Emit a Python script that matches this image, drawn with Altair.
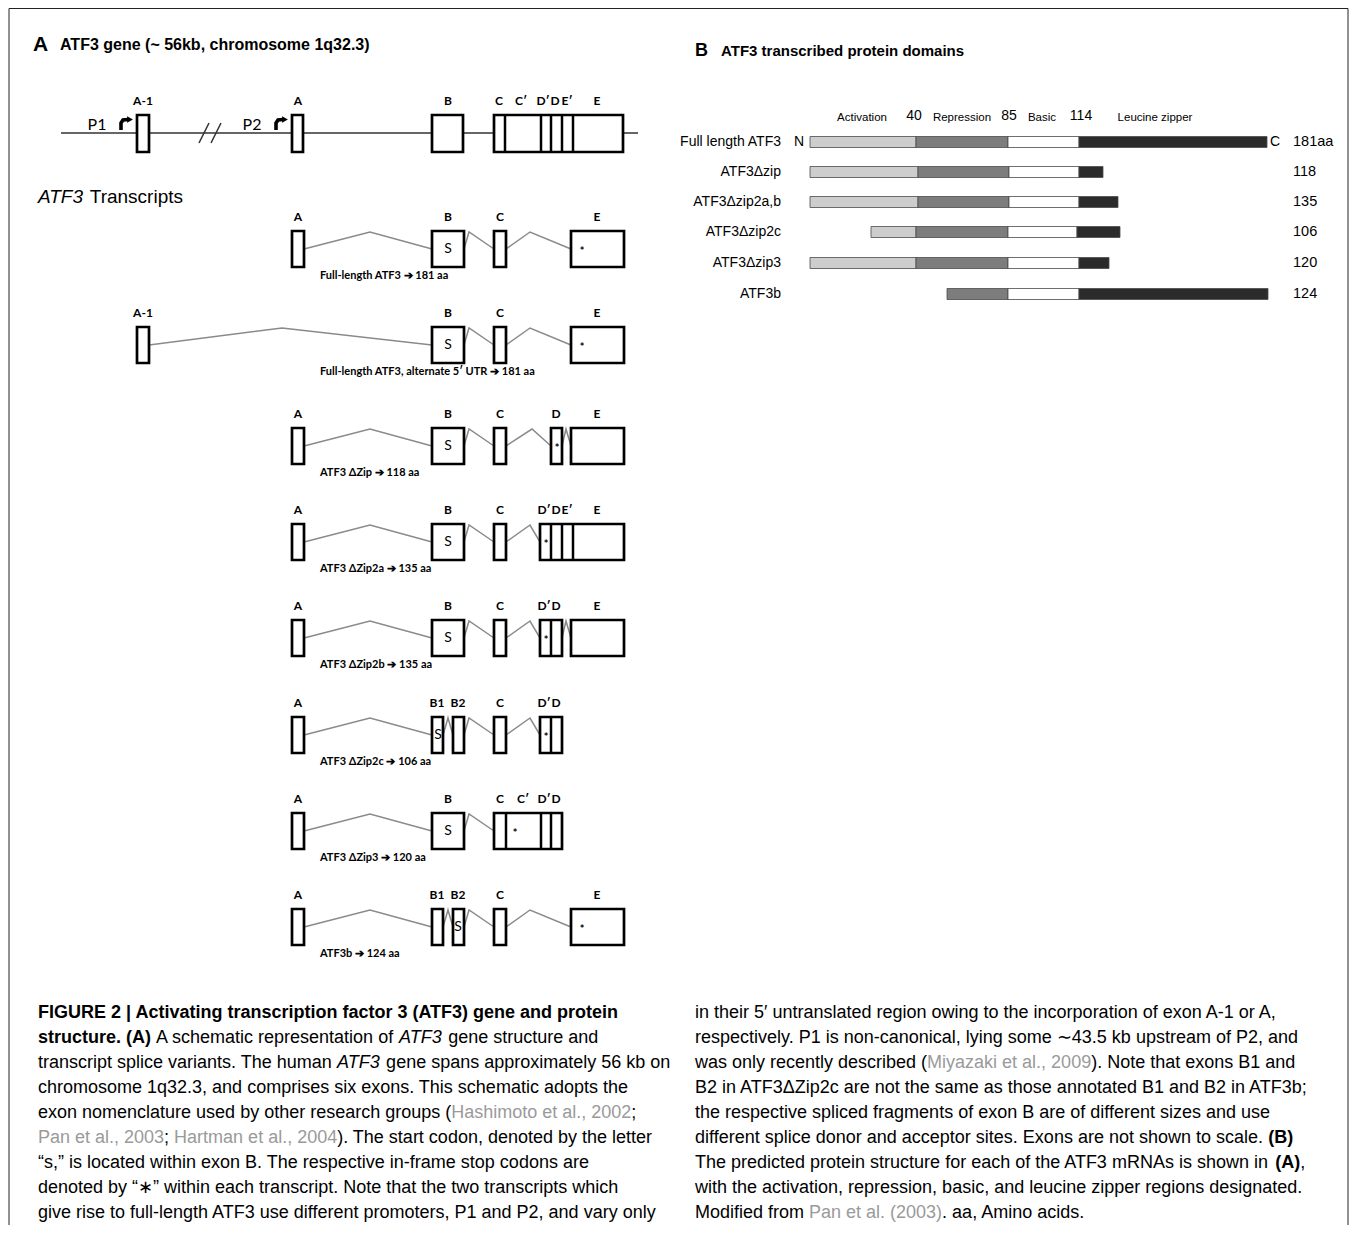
import altair as alt
import pandas as pd

# ---------------------------------------------------------------------------
# Frame: data coordinates are the reference figure's own pixel units
# ---------------------------------------------------------------------------
W, H = 1341, 1217
XS = alt.Scale(domain=[8, 8 + W], nice=False, zero=False)
YS = alt.Scale(domain=[8, 8 + H], nice=False, zero=False, reverse=True)

SANS = "Liberation Sans, Arial, Helvetica, sans-serif"
CAL = "Lato, Carlito, Calibri, Open Sans, sans-serif"

# ---------------------------------------------------------------------------
# Panel A - gene structure
# ---------------------------------------------------------------------------
gene_line_x = [61, 638]
gene_line_y = 133
gene_box_y = [115, 152]
gene_exon_x0 = [137, 292, 432, 494]
gene_exon_x1 = [149, 303, 463, 623]
gene_divider_x = [505, 541, 551, 562, 573]
gene_label_text = ["A-1", "A", "B", "C", "C′", "D′", "D", "E′", "E"]
gene_label_x = [143, 298, 448, 499, 521, 543, 555, 567, 597]
gene_label_y = 101
promoter_names = ["P1", "P2"]
promoter_text_x = [97, 252]
promoter_arrow_x = [121, 276]
break_x = [199, 211]

# ---------------------------------------------------------------------------
# Panel A - transcripts
# ---------------------------------------------------------------------------
exon_names = ["A-1", "A", "B", "B1", "B2", "C", "D", "D′DE′E", "D′D", "CC′D′D", "E"]
exon_left = [137, 292, 432, 432, 453, 494, 551, 540, 540, 494, 571]
exon_right = [149, 304, 464, 443, 464, 506, 562, 624, 562, 562, 624]
label_names = ["A-1", "A", "B", "B1", "B2", "C", "C′", "D′", "D", "E′", "E"]
label_pos = [143, 298, 448, 437, 458, 500, 523, 544, 556, 567, 597]

row_top = [231, 327, 428, 524, 620, 717, 813, 909]
row_caption = [
    "Full-length ATF3 ➔ 181 aa",
    "Full-length ATF3, alternate 5′ UTR ➔ 181 aa",
    "ATF3 ΔZip ➔ 118 aa",
    "ATF3 ΔZip2a ➔ 135 aa",
    "ATF3 ΔZip2b ➔ 135 aa",
    "ATF3 ΔZip2c ➔ 106 aa",
    "ATF3 ΔZip3 ➔ 120 aa",
    "ATF3b ➔ 124 aa",
]
row_exons = [
    ["A", "B", "C", "E"],
    ["A-1", "B", "C", "E"],
    ["A", "B", "C", "D", "E"],
    ["A", "B", "C", "D′DE′E"],
    ["A", "B", "C", "D′D", "E"],
    ["A", "B1", "B2", "C", "D′D"],
    ["A", "B", "CC′D′D"],
    ["A", "B1", "B2", "C", "E"],
]
row_dividers = [[], [], [], [551, 562, 573], [551], [551], [506, 541, 551], []]
row_labels = [
    ["A", "B", "C", "E"],
    ["A-1", "B", "C", "E"],
    ["A", "B", "C", "D", "E"],
    ["A", "B", "C", "D′", "D", "E′", "E"],
    ["A", "B", "C", "D′", "D", "E"],
    ["A", "B1", "B2", "C", "D′", "D"],
    ["A", "B", "C", "C′", "D′", "D"],
    ["A", "B1", "B2", "C", "E"],
]
row_introns = [
    [(304, 370, 432), (464, 469, 494), (506, 530, 571)],
    [(149, 282, 432), (464, 469, 494), (506, 530, 571)],
    [(304, 370, 432), (464, 469, 494), (506, 532, 551), (562, 566, 571)],
    [(304, 370, 432), (464, 469, 494), (506, 530, 540)],
    [(304, 370, 432), (464, 469, 494), (506, 530, 540), (562, 566, 571)],
    [(304, 370, 432), (443, 448, 453), (464, 469, 494), (506, 530, 540)],
    [(304, 370, 432), (464, 469, 494)],
    [(304, 370, 432), (443, 448, 453), (464, 469, 494), (506, 530, 571)],
]
row_start_codon_x = [448, 448, 448, 448, 448, 438, 448, 458]
row_stop_codon_x = [582, 582, 557, 546, 546, 546, 515, 582]
BOX_H = 36

# ---------------------------------------------------------------------------
# Panel B - protein domains
# ---------------------------------------------------------------------------
domain_names = ["Activation", "Repression", "Basic", "Leucine zipper"]
domain_colors = ["#cdcdcd", "#7d7d7d", "#ffffff", "#2b2b2b"]
header_text = ["Activation", "40", "Repression", "85", "Basic", "114", "Leucine zipper"]
header_x = [862, 914, 962, 1009, 1042, 1081, 1155]
prot_names = ["Full length ATF3", "ATF3Δzip", "ATF3Δzip2a,b", "ATF3Δzip2c", "ATF3Δzip3", "ATF3b"]
prot_y = [142, 172, 202, 232, 263, 294]
prot_len = ["181aa", "118", "135", "106", "120", "124"]
prot_bounds = [
    [810, 916, 1008, 1079, 1267],
    [810, 918, 1009, 1079, 1103],
    [810, 918, 1009, 1079, 1118],
    [871, 916, 1008, 1077, 1120],
    [810, 916, 1008, 1079, 1109],
    [947, 947, 1008, 1079, 1268],
]

# ---------------------------------------------------------------------------
# Caption
# ---------------------------------------------------------------------------
left_lines = [
    [("FIGURE 2 | Activating transcription factor 3 (ATF3) gene and protein", "b")],
    [("structure. (A)", "b"), (" A schematic representation of ", "r"), ("ATF3", "i"),
     (" gene structure and", "r")],
    [("transcript splice variants. The human ", "r"), ("ATF3", "i"),
     (" gene spans approximately 56 kb on", "r")],
    [("chromosome 1q32.3, and comprises six exons. This schematic adopts the", "r")],
    [("exon nomenclature used by other research groups (", "r"), ("Hashimoto et al., 2002", "g"),
     (";", "r")],
    [("Pan et al., 2003", "g"), ("; ", "r"), ("Hartman et al., 2004", "g"),
     ("). The start codon, denoted by the letter", "r")],
    [("“s,” is located within exon B. The respective in-frame stop codons are", "r")],
    [("denoted by “∗” within each transcript. Note that the two transcripts which", "r")],
    [("give rise to full-length ATF3 use different promoters, P1 and P2, and vary only", "r")],
]
right_lines = [
    [("in their 5′ untranslated region owing to the incorporation of exon A-1 or A,", "r")],
    [("respectively. P1 is non-canonical, lying some ∼43.5 kb upstream of P2, and", "r")],
    [("was only recently described (", "r"), ("Miyazaki et al., 2009", "g"),
     ("). Note that exons B1 and", "r")],
    [("B2 in ATF3ΔZip2c are not the same as those annotated B1 and B2 in ATF3b;", "r")],
    [("the respective spliced fragments of exon B are of different sizes and use", "r")],
    [("different splice donor and acceptor sites. Exons are not shown to scale. ", "r"), ("(B)", "b")],
    [("The predicted protein structure for each of the ATF3 mRNAs is shown in ", "r"), ("(A)", "b"),
     (",", "r")],
    [("with the activation, repression, basic, and leucine zipper regions designated.", "r")],
    [("Modified from ", "r"), ("Pan et al. (2003)", "g"), (". aa, Amino acids.", "r")],
]

# Helvetica / Arial advance widths (1/1000 em), ASCII 32..126
_REG = [278, 278, 355, 556, 556, 889, 667, 191, 333, 333, 389, 584, 278, 333, 278, 278,
        556, 556, 556, 556, 556, 556, 556, 556, 556, 556, 278, 278, 584, 584, 584, 556, 1015,
        667, 667, 722, 722, 667, 611, 778, 722, 278, 500, 667, 556, 833, 722, 778, 667, 778,
        722, 667, 611, 722, 667, 944, 667, 667, 611, 278, 278, 278, 469, 556, 333,
        556, 556, 500, 556, 556, 278, 556, 556, 222, 222, 500, 222, 833, 556, 556, 556, 556,
        333, 500, 278, 556, 500, 722, 500, 500, 500, 334, 260, 334, 584]
_BOLD = [278, 333, 474, 556, 556, 889, 722, 238, 333, 333, 389, 584, 278, 333, 278, 278,
         556, 556, 556, 556, 556, 556, 556, 556, 556, 556, 333, 333, 584, 584, 584, 611, 975,
         722, 722, 722, 722, 667, 611, 778, 722, 278, 556, 722, 611, 833, 722, 778, 667, 778,
         722, 667, 611, 722, 667, 944, 667, 667, 611, 333, 278, 333, 584, 556, 333,
         556, 611, 556, 611, 556, 333, 611, 611, 278, 278, 556, 278, 889, 611, 611, 611, 611,
         389, 556, 333, 611, 556, 778, 556, 556, 500, 389, 280, 389, 584]


def text_width(s, bold, size):
    table = _BOLD if bold else _REG
    tot = 0
    for ch in s:
        o = ord(ch)
        tot += table[o - 32] if 32 <= o <= 126 else 556
    return tot * size / 1000.0


def layout(lines, x0, y0, dy, size):
    out = {"r": [], "b": [], "i": [], "g": []}
    for li, segs in enumerate(lines):
        cur = 0.0
        for text, st in segs:
            bold = st == "b"
            lead = len(text) - len(text.lstrip(" "))
            out[st].append({"x": x0 + cur + text_width(" " * lead, bold, size),
                            "y": y0 + li * dy, "t": text.strip()})
            cur += text_width(text, bold, size)
    return out


# ---------------------------------------------------------------------------
# Build tables
# ---------------------------------------------------------------------------
def ex(f="x"):
    return alt.X(f"{f}:Q", scale=XS, axis=None)


def ey(f="y"):
    return alt.Y(f"{f}:Q", scale=YS, axis=None)


# border (left, top, right)
border_df = pd.DataFrame({"x": [9, 9, 1348], "x2": [9, 1348, 1348],
                          "y": [8.5, 8.5, 8.5], "y2": [1225, 8.5, 1225]})

# straight rules: gene backbone + break marks
rule_rows = [{"x": gene_line_x[0], "x2": gene_line_x[1], "y": gene_line_y, "y2": gene_line_y}]
for bx in break_x:
    rule_rows.append({"x": bx, "x2": bx + 10, "y": gene_line_y + 10, "y2": gene_line_y - 10})
rules_df = pd.DataFrame(rule_rows)

# exon boxes
span = dict(zip(exon_names, zip(exon_left, exon_right)))
box_rows = []
for x0, x1 in zip(gene_exon_x0, gene_exon_x1):
    box_rows.append({"x": x0, "x2": x1, "y": gene_box_y[0], "y2": gene_box_y[1]})
div_rows = [{"x": d, "y": gene_box_y[0], "y2": gene_box_y[1]} for d in gene_divider_x]
intron_rows = []
lab_rows = [{"x": x, "y": gene_label_y, "t": t} for t, x in zip(gene_label_text, gene_label_x)]
cap_rows, s_rows, star_rows = [], [], []
lpos = dict(zip(label_names, label_pos))
for r, top in enumerate(row_top):
    bot = top + BOX_H
    mid = top + BOX_H / 2
    for e in row_exons[r]:
        a, b = span[e]
        box_rows.append({"x": a, "x2": b, "y": top, "y2": bot})
    for d in row_dividers[r]:
        div_rows.append({"x": d, "y": top, "y2": bot})
    for k, (xs, xp, xe) in enumerate(row_introns[r]):
        iid = f"{r}-{k}"
        intron_rows += [{"id": iid, "o": 0, "x": xs, "y": mid},
                        {"id": iid, "o": 1, "x": xp, "y": top + 1},
                        {"id": iid, "o": 2, "x": xe, "y": mid}]
    for t in row_labels[r]:
        lab_rows.append({"x": lpos[t], "y": top - 14, "t": t})
    cap_rows.append({"x": 320, "y": top + 45, "t": row_caption[r]})
    s_rows.append({"x": row_start_codon_x[r], "y": mid, "t": "S"})
    star_rows.append({"x": row_stop_codon_x[r], "y": mid + 3, "t": "*"})

boxes_df = pd.DataFrame(box_rows)
divs_df = pd.DataFrame(div_rows)
introns_df = pd.DataFrame(intron_rows)
labs_df = pd.DataFrame(lab_rows)
caps_df = pd.DataFrame(cap_rows)
s_df = pd.DataFrame(s_rows)
star_df = pd.DataFrame(star_rows)

# promoter arrows
arrow_rows, head_rows = [], []
for name, ax in zip(promoter_names, promoter_arrow_x):
    pts = [(ax, gene_line_y - 3), (ax, gene_line_y - 10), (ax + 2, gene_line_y - 13), (ax + 7, gene_line_y - 13.5)]
    for k, (px, py) in enumerate(pts):
        arrow_rows.append({"id": name, "o": k, "x": px, "y": py})
    head_rows.append({"x": ax + 9, "y": gene_line_y - 13.5})
arrow_df = pd.DataFrame(arrow_rows)
head_df = pd.DataFrame(head_rows)
prom_df = pd.DataFrame({"x": promoter_text_x, "y": [gene_line_y - 8] * 2, "t": promoter_names})

# protein bars
prot_rows = []
for name, yc, bnd in zip(prot_names, prot_y, prot_bounds):
    for i, dom in enumerate(domain_names):
        if bnd[i + 1] > bnd[i]:
            prot_rows.append({"x": bnd[i], "x2": bnd[i + 1], "y": yc - 5.5, "y2": yc + 5.5, "domain": dom})
prot_df = pd.DataFrame(prot_rows)
pname_df = pd.DataFrame({"x": [781] * len(prot_names), "y": prot_y, "t": prot_names})
plen_df = pd.DataFrame({"x": [1293] * len(prot_len), "y": prot_y, "t": prot_len})
nc_df = pd.DataFrame({"x": [799, 1275], "y": [prot_y[0]] * 2, "t": ["N", "C"]})
hdr_num = [i for i, t in enumerate(header_text) if t[0].isdigit()]
hdr_word = [i for i, t in enumerate(header_text) if not t[0].isdigit()]
hnum_df = pd.DataFrame({"x": [header_x[i] for i in hdr_num], "y": [116] * len(hdr_num),
                        "t": [header_text[i] for i in hdr_num]})
hword_df = pd.DataFrame({"x": [header_x[i] for i in hdr_word], "y": [118] * len(hdr_word),
                         "t": [header_text[i] for i in hdr_word]})

# caption segments
CAP_SIZE = 18
capL = layout(left_lines, 38, 1013, 25, CAP_SIZE)
capR = layout(right_lines, 695, 1013, 25, CAP_SIZE)
cap_seg = {k: pd.DataFrame(capL[k] + capR[k]) for k in capL}

# titles
titleA = pd.DataFrame({"x": [33], "y": [45], "t": ["A"]})
titleA2 = pd.DataFrame({"x": [60], "y": [45], "t": ["ATF3 gene (~ 56kb, chromosome 1q32.3)"]})
titleB = pd.DataFrame({"x": [695], "y": [51], "t": ["B"]})
titleB2 = pd.DataFrame({"x": [721], "y": [51], "t": ["ATF3 transcribed protein domains"]})
tr_size = 19
trans_i = pd.DataFrame({"x": [38], "y": [197], "t": ["ATF3"]})
trans_r = pd.DataFrame({"x": [38 + text_width("ATF3 ", False, tr_size)], "y": [197], "t": ["Transcripts"]})


def text_layer(df, size, font=SANS, weight="normal", style="normal", align="left",
               color="black", baseline="middle"):
    return alt.Chart(df).mark_text(fontSize=size, font=font, fontWeight=weight, fontStyle=style,
                                   align=align, baseline=baseline, color=color).encode(
        x=ex(), y=ey(), text="t:N")


layers = [
    alt.Chart(border_df).mark_rule(color="#222222", strokeWidth=1).encode(
        x=ex(), y=ey(), x2="x2:Q", y2="y2:Q"),
    alt.Chart(rules_df).mark_rule(color="#333333", strokeWidth=1.5).encode(
        x=ex(), y=ey(), x2="x2:Q", y2="y2:Q"),
    alt.Chart(introns_df).mark_line(color="#8a8a8a", strokeWidth=1.5).encode(
        x=ex(), y=ey(), detail="id:N", order=alt.Order("o:Q")),
    alt.Chart(boxes_df).mark_rect(fill="white", stroke="black", strokeWidth=2.7).encode(
        x=ex(), y=ey(), x2="x2:Q", y2="y2:Q"),
    alt.Chart(divs_df).mark_rule(color="black", strokeWidth=2.5).encode(
        x=ex(), y=ey(), y2="y2:Q"),
    alt.Chart(arrow_df).mark_line(color="black", strokeWidth=3.6).encode(
        x=ex(), y=ey(), detail="id:N", order=alt.Order("o:Q")),
    alt.Chart(head_df).mark_point(shape="triangle-right", filled=True, color="black", size=45, opacity=1).encode(
        x=ex(), y=ey()),
    alt.Chart(prot_df).mark_rect(stroke="#4a4a4a", strokeWidth=0.8).encode(
        x=ex(), y=ey(), x2="x2:Q", y2="y2:Q",
        color=alt.Color("domain:N", scale=alt.Scale(domain=domain_names, range=domain_colors), legend=None)),
    # panel A texts
    text_layer(titleA, 21, weight="bold"),
    text_layer(titleA2, 16, weight="bold"),
    text_layer(trans_i, tr_size, style="italic"),
    text_layer(trans_r, tr_size),
    text_layer(labs_df, 12, font=CAL, weight="bold", align="center"),
    text_layer(prom_df, 16, font=CAL, align="center"),
    text_layer(caps_df, 11, font=CAL, weight="bold"),
    text_layer(s_df, 14, font=CAL, align="center"),
    text_layer(star_df, 11, font=CAL, weight="bold", align="center"),
    # panel B texts
    text_layer(titleB, 18, weight="bold"),
    text_layer(titleB2, 15, weight="bold"),
    text_layer(hword_df, 11.5, align="center"),
    text_layer(hnum_df, 14, align="center"),
    text_layer(pname_df, 14, align="right"),
    text_layer(plen_df, 14.5),
    text_layer(nc_df, 14, align="center"),
    # caption
    text_layer(cap_seg["r"], CAP_SIZE),
    text_layer(cap_seg["b"], CAP_SIZE, weight="bold"),
    text_layer(cap_seg["i"], CAP_SIZE, style="italic"),
    text_layer(cap_seg["g"], CAP_SIZE, color="#9a9a9a"),
]

chart = alt.layer(*layers).properties(
    width=W, height=H, padding=0, autosize=alt.AutoSizeParams(type="none"),
    background="white",
).configure_view(stroke=None)

chart.save("out.html", embed_options={"renderer": "svg", "actions": False})
